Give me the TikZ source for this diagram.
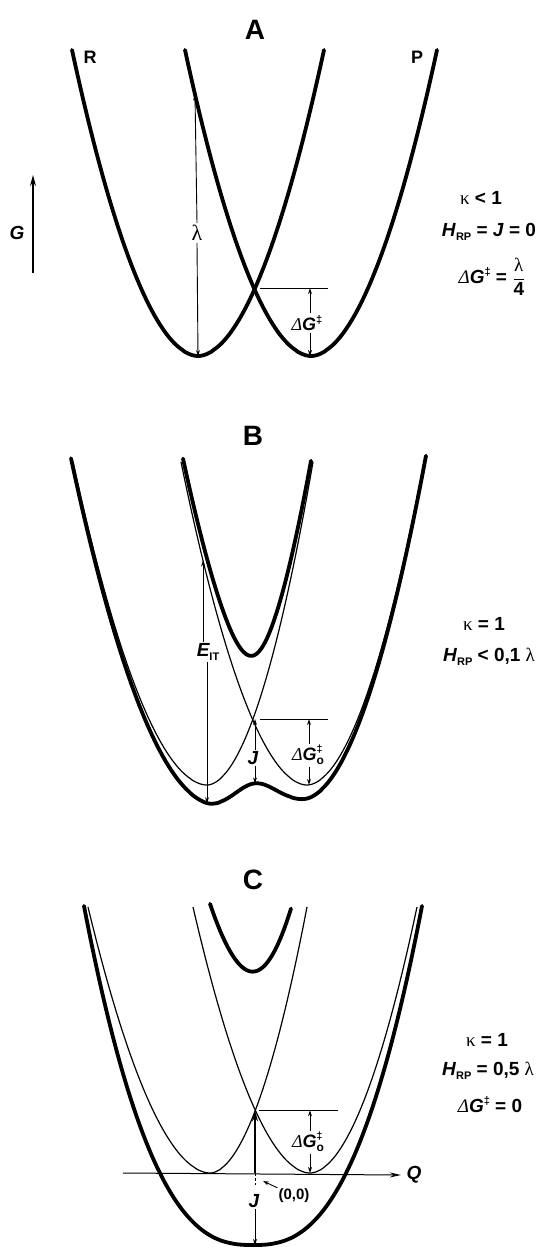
\documentclass[tikz,border=0pt]{standalone}
\usepackage{fontspec}
\usepackage{amsmath}
\setmainfont{Liberation Sans}
\newfontfamily\serifgr{Liberation Serif}
\usetikzlibrary{arrows.meta}
\newcommand{\lam}{{\serifgr\mdseries\upshape λ}}
\newcommand{\kap}{{\serifgr\mdseries\upshape κ}}
\newcommand{\Dl}{{\serifgr\mdseries\itshape Δ}}
\newcommand{\dgr}{\raisebox{0.8ex}{\fontsize{11}{11}\selectfont\upshape ‡}}
\newcommand{\dgo}{\makebox[0pt][l]{\raisebox{0.85ex}{\fontsize{10.5}{10.5}\selectfont\upshape ‡}}\raisebox{-0.4ex}{\fontsize{12}{12}\selectfont\upshape o}}
\newcommand{\mysub}[1]{\raisebox{-0.35ex}{\fontsize{11}{11}\selectfont\upshape #1}}
\begin{document}
\begin{tikzpicture}[x=1pt,y=-1pt,
  thickc/.style={line width=3.8pt,line cap=round},
  thinc/.style={line width=1.2pt},
  hline/.style={line width=1pt},
  dim/.style={line width=0.9pt,-{Stealth[length=6pt,width=4pt]}},
  bigarrow/.style={line width=1.3pt,-{Stealth[length=11pt,width=6pt]}},
  title/.style={font=\fontsize{28}{30}\selectfont\bfseries,inner sep=0pt},
  curvename/.style={font=\fontsize{18}{20}\selectfont\bfseries,inner sep=0pt},
  lbl/.style={font=\fontsize{19}{21}\selectfont\bfseries\itshape,inner sep=1.5pt},
  dglbl/.style={font=\fontsize{18}{20}\selectfont\bfseries\itshape,inner sep=1.5pt},
  txt/.style={font=\fontsize{19}{22}\selectfont\bfseries,inner sep=0pt},
  declare function={
    RA(\x)=356-306*pow(abs(\x-198)/126+0.0001,1.9);
    PA(\x)=356-306*pow(abs(\x-311)/126+0.0001,1.9);
    RB(\x)=785-323*pow(abs(\x-207)/ifthenelse(\x<207,134,106)+0.0001,1.9);
    PB(\x)=785-323*pow(abs(\x-307)/ifthenelse(\x<307,126,117)+0.0001,1.9);
    LB(\x)=(RB(\x)+PB(\x))/2+100*sqrt(((RB(\x)-PB(\x))/200)^2+0.64^2);
    UB(\x)=(RB(\x)+PB(\x))/2-100*sqrt(((RB(\x)-PB(\x))/200)^2+0.64^2);
    RC(\x)=1173-266*pow(abs(\x-210)/ifthenelse(\x<210,122,97)+0.0001,1.9);
    PC(\x)=1173-266*pow(abs(\x-310)/ifthenelse(\x<310,117,107)+0.0001,1.9);
    UC(\x)=(RC(\x)+PC(\x))/2-100*sqrt(((RC(\x)-PC(\x))/200)^2+1.39^2);
    LC(\x)=1245-339*pow(abs(\x-253)/169+0.0001,2.6);
  }]
\useasboundingbox (0,0) rectangle (544,1251);

% ================= Panel A =================
\node[title] (tA) at (255,30) {A};
\node[curvename] (R) at (90,57) {R};
\node[curvename] (P) at (417,57) {P};
\draw[thickc] plot[domain=72:324,samples=120] (\x,{RA(\x)});
\draw[thickc] plot[domain=185:437,samples=120] (\x,{PA(\x)});
% G axis
\coordinate (g0) at (33,273);
\coordinate (g1) at (33,175);
\draw[bigarrow] (g0) -- (g1);
\node[lbl] (G) at (17,233) {G};
% lambda
\coordinate (lamb) at (198,{RA(198)});
\coordinate (lamt) at (195,{PA(195)});
\node[font=\fontsize{22}{24}\selectfont,inner sep=2pt] (lam) at (197,233) {\lam};
\draw[dim] (lam.north) -- (lamt);
\draw[dim] (lam.south) -- (lamb);
% Delta G
\coordinate (xA) at (255,{RA(255)});
\coordinate (hA) at (328,{RA(255)});
\coordinate (dA) at (310,{RA(255)});
\coordinate (mA) at (310,{PA(310)});
\draw[hline] ([xshift=5pt]xA) -- (hA);
\node[dglbl] (dgA) at (307,323) {\Dl G\dgr};
\draw[dim] (dgA.north -| dA) -- (dA);
\draw[dim] (dgA.south -| dA) -- (mA);
% text
\node[txt] (kA) at (481,198) {\kap\ < 1};
\node[txt] (hA2) at (489,232) {\textit{H}\mysub{RP} = \textit{J} = 0};
\node[txt] (eA) at (492,277) {\Dl\textit{G}\dgr\ = $\dfrac{\text{\lam}}{\text{\bfseries 4}}$};

% ================= Panel B =================
\node[title] (tB) at (253,436) {B};
\draw[thinc] plot[domain=73:313,samples=120] (\x,{RB(\x)});
\draw[thinc] plot[domain=181:424,samples=120] (\x,{PB(\x)});
\draw[thickc] plot[domain=183:311,samples=100] (\x,{UB(\x)});
\draw[thickc] plot[domain=71:426,samples=200] (\x,{LB(\x)});
% E_IT
\coordinate (eb) at (207,{LB(207)});
\coordinate (et) at (203,{PB(203)});
\node[lbl] (EIT) at (208,652) {E\mysub{IT}};
\draw[dim] (EIT.north -| et) -- (et);
\draw[dim] (EIT.south -| eb) -- (eb);
% J
\coordinate (xB) at (255,{(RB(255)+PB(255))/2});
\coordinate (jB) at (255,{LB(255)});
\node[lbl] (JB) at (253,758) {J};
\draw[dim] (JB.north -| xB) -- (xB);
\draw[dim] (JB.south -| jB) -- (jB);
% Delta G0
\coordinate (hB) at (328,{(RB(255)+PB(255))/2});
\coordinate (dB) at (309,{(RB(255)+PB(255))/2});
\coordinate (mB) at (309,{PB(309)});
\draw[hline] ([xshift=5pt]xB) -- (hB);
\node[dglbl] (dgB) at (308,755) {\Dl G\dgo};
\draw[dim] (dgB.north -| dB) -- (dB);
\draw[dim] (dgB.south -| dB) -- (mB);
% text
\node[txt] (kB) at (484,624) {\kap\ = 1};
\node[txt] (hB2) at (489,657) {\textit{H}\mysub{RP} < 0,1 \lam};

% ================= Panel C =================
\node[title] (tC) at (253,880) {C};
\draw[thinc] plot[domain=88:307,samples=120] (\x,{RC(\x)});
\draw[thinc] plot[domain=193:417,samples=120] (\x,{PC(\x)});
\draw[thickc] plot[domain=210:291,samples=80] (\x,{UC(\x)});
\draw[thickc] plot[domain=84:422,samples=200] (\x,{LC(\x)});
% Q axis
\coordinate (q0) at (123,1173);
\node[lbl] (Q) at (414,1175) {Q};
\draw[line width=1pt,-{Stealth[length=11pt,width=5pt]}] (q0) -- ([xshift=-4pt]Q.west);
% origin and J
\coordinate (O) at (255,1173);
\coordinate (xC) at (255,{(RC(255)+PC(255))/2});
\draw[bigarrow] (O) -- (xC);
\draw[line width=0.8pt,dash pattern=on 3pt off 2pt] (O) -- ++(0,12);
\node[lbl] (JC) at (254,1201) {J};
\coordinate (jC) at (255,{LC(255)});
\draw[dim] (JC.south -| jC) -- (jC);
\node[font=\fontsize{15}{17}\selectfont\bfseries,inner sep=1pt] (oo) at (294,1196) {(0,0)};
\draw[dim] (oo.north west) -- ([shift={(8pt,-8pt)}]O);
% Delta G0
\coordinate (hC) at (338,{(RC(255)+PC(255))/2});
\coordinate (dC) at (310,{(RC(255)+PC(255))/2});
\coordinate (mC) at (310,{PC(310)});
\draw[hline] ([xshift=4pt]xC) -- (hC);
\node[dglbl] (dgC) at (308,1142) {\Dl G\dgo};
\draw[dim] (dgC.north -| dC) -- (dC);
\draw[dim] (dgC.south -| dC) -- (mC);
% text
\node[txt] (kC) at (487,1040) {\kap\ = 1};
\node[txt] (hC2) at (488,1071) {\textit{H}\mysub{RP} = 0,5 \lam};
\node[txt] (eC) at (490,1105) {\Dl\textit{G}\dgr\ = 0};
\end{tikzpicture}
\end{document}
